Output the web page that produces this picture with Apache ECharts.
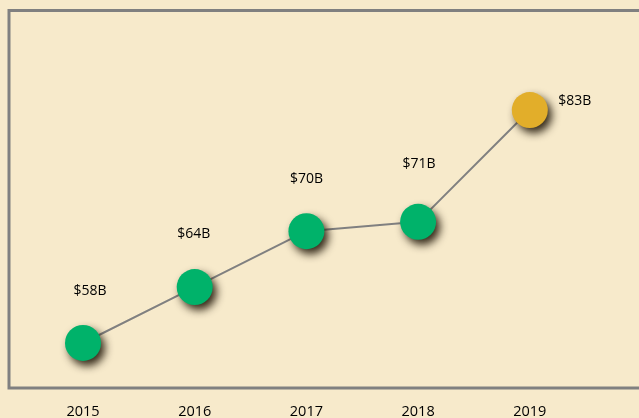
<!DOCTYPE html>
<html>
<head>
<meta charset="utf-8">
<script src="https://cdn.jsdelivr.net/npm/echarts@6/dist/echarts.min.js"></script>
<style>
  html, body { margin: 0; padding: 0; background: #f7eacb; }
  #chart { width: 639px; height: 418px; }
</style>
</head>
<body>
<div id="chart"></div>
<script>
var years = [2015, 2016, 2017, 2018, 2019];
var revenue = [58, 64, 70, 71, 83];
var revenueLabels = ['$58B', '$64B', '$70B', '$71B', '$83B'];

// label offsets from each dot's centre (style only)
var labelOffsets = [[7, -52], [-1, -53], [0, -52], [1, -58], [45, -9]];
var green = '#00b26a';
var gold = '#e2ae2a';

var chart = echarts.init(document.getElementById('chart'), null, { renderer: 'canvas' });

var points = years.map(function(y, i) {
  var last = i === years.length - 1;
  return {
    value: [y, revenue[i]],
    itemStyle: { color: last ? gold : green },
    label: { offset: labelOffsets[i], formatter: revenueLabels[i] }
  };
});

chart.setOption({
  animation: false,
  backgroundColor: '#f7eacb',
  grid: {
    left: 9, top: 10.5, width: 660, bottom: 30,
    outerBoundsMode: 'none', containLabel: false,
    show: true, backgroundColor: '#f7eacb', borderColor: '#808080', borderWidth: 3
  },
  xAxis: {
    type: 'value', min: 2014.3375, max: 2020.246,
    axisLine: { show: false }, axisTick: { show: false }, splitLine: { show: false },
    axisLabel: {
      customValues: years, margin: 16, color: '#000',
      fontFamily: 'Open Sans', fontSize: 14.5,
      formatter: function(v) { return String(v); }
    }
  },
  yAxis: {
    type: 'value', min: 53.17, max: 93.68, show: false,
    splitLine: { show: false }
  },
  series: [{
    type: 'line',
    data: points,
    symbol: 'circle',
    symbolSize: 36,
    lineStyle: { color: '#808080', width: 2 },
    itemStyle: {
      shadowColor: 'rgba(30,20,5,0.9)', shadowBlur: 8,
      shadowOffsetX: 4, shadowOffsetY: 5
    },
    label: {
      show: true, position: 'inside', color: '#000',
      fontFamily: 'Open Sans', fontSize: 14
    }
  }]
});
window.addEventListener('resize', function() { chart.resize(); });
</script>
</body>
</html>
